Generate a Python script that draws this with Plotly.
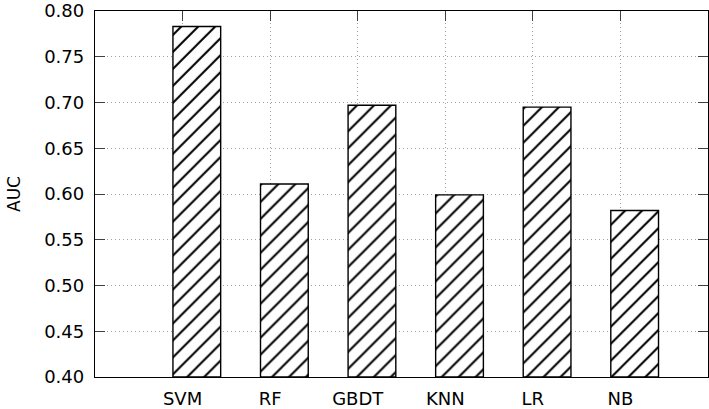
import plotly.graph_objects as go

categories = ["SVM", "RF", "GBDT", "KNN", "LR", "NB"]
auc_values = [0.783, 0.611, 0.697, 0.599, 0.695, 0.582]
y_ticks = [0.40, 0.45, 0.50, 0.55, 0.60, 0.65, 0.70, 0.75, 0.80]

positions = list(range(len(categories)))

fig = go.Figure()
fig.add_trace(go.Bar(
    x=positions,
    y=[v - 0.40 for v in auc_values],
    base=0.40,
    width=0.545,
    offset=-0.11,
    marker=dict(
        color="white",
        line=dict(color="black", width=1.4),
        pattern=dict(shape="/", fgcolor="black", bgcolor="white", size=12, solidity=0.17, fgopacity=1),
    ),
    hoverinfo="skip",
))

font = dict(family="DejaVu Sans", size=18, color="black")

fig.update_layout(
    width=709, height=409,
    margin=dict(l=95, r=1, t=11, b=32),
    plot_bgcolor="white", paper_bgcolor="white",
    showlegend=False,
    font=font,
    xaxis=dict(
        range=[-1, 6],
        tickmode="array", tickvals=positions, ticktext=categories,
        ticks="inside", ticklen=10, tickwidth=1.3, tickcolor="#404040",
        showline=True, linecolor="black", linewidth=1.3, mirror="ticks",
        showgrid=True, gridcolor="#a0a0a0", griddash="1px,3px", gridwidth=1,
        zeroline=False, layer="below traces", automargin=False,
        ticklabelstandoff=5,
        tickfont=font,
    ),
    yaxis=dict(
        range=[0.40, 0.80],
        tickmode="array", tickvals=y_ticks, ticktext=[f"{t:.2f}" for t in y_ticks],
        ticks="inside", ticklen=10, tickwidth=1.3, tickcolor="#404040",
        showline=True, linecolor="black", linewidth=1.3, mirror="ticks",
        showgrid=True, gridcolor="#a0a0a0", griddash="1px,3px", gridwidth=1,
        zeroline=False, automargin=False,
        ticklabelstandoff=6,
        title=dict(text="AUC", font=dict(family="DejaVu Sans", size=17, color="black"), standoff=19),
        tickfont=font,
    ),
)

fig.write_html(
    "out.html",
    config={"displayModeBar": False},
    post_script="document.body.style.margin='0';document.body.style.overflow='hidden';",
)
